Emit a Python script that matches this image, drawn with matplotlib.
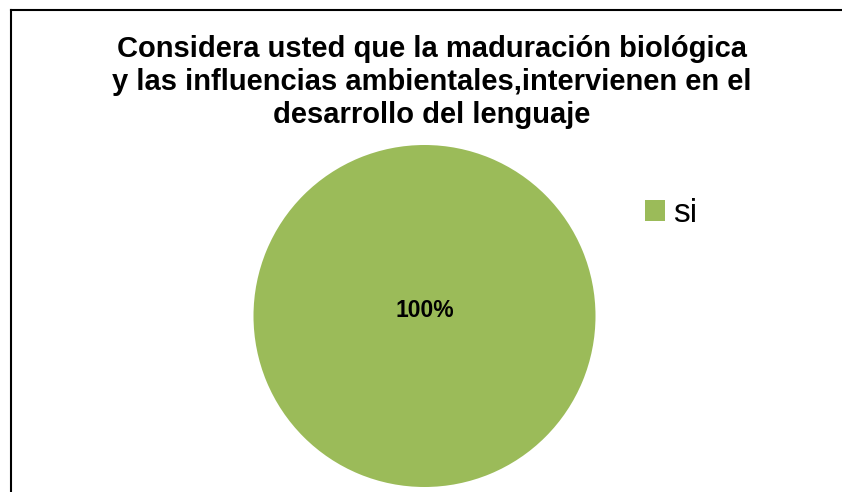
import matplotlib
matplotlib.use("Agg")
import matplotlib.pyplot as plt
from matplotlib.lines import Line2D

title_lines = [
    "Considera usted que la maduración biológica",
    "y las influencias ambientales,intervienen en el",
    "desarrollo del lenguaje",
]
categories = ["si"]
values = [100]
colors = ["#9BBB59"]

W, H = 842, 492
fig = plt.figure(figsize=(W / 100, H / 100), dpi=100)
fig.patch.set_facecolor("white")

# border (only top and left edges visible)
fig.add_artist(Line2D([11 / W, 11 / W], [1 - 10 / H, 0], transform=fig.transFigure,
                      color="black", lw=1.5, solid_capstyle="projecting"))
fig.add_artist(Line2D([11 / W, 1], [1 - 10 / H, 1 - 10 / H], transform=fig.transFigure,
                      color="black", lw=1.5, solid_capstyle="projecting"))

# title
baselines = [57, 90, 123]
for line, b in zip(title_lines, baselines):
    fig.text(432 / W, 1 - b / H, line, ha="center", va="baseline",
             fontsize=21, fontweight="bold", family=["Liberation Sans", "DejaVu Sans"])

# pie
cx, cy, r = 424.5, 316, 171
ax = fig.add_axes([(cx - r) / W, (H - cy - r) / H, 2 * r / W, 2 * r / H])
wedges, texts, autotexts = ax.pie(values, colors=colors, startangle=-90,
                                  autopct="%1.0f%%", pctdistance=0.035,
                                  wedgeprops=dict(linewidth=0),
                                  textprops=dict(fontsize=16.5, fontweight="bold",
                                                 family=["Liberation Sans Narrow", "Liberation Sans"]))
ax.set_xlim(-1, 1)
ax.set_ylim(-1, 1)
ax.set_aspect("equal")
ax.axis("off")

fig.legend(wedges, categories, loc="center left",
           bbox_to_anchor=(645 / W, 1 - 214 / H), frameon=False,
           prop=dict(size=24, family=["Liberation Sans Narrow", "Liberation Sans"]),
           handlelength=0.6, handleheight=0.6, handletextpad=0.25,
           borderpad=0, borderaxespad=0)

fig.savefig("out.png", dpi=100, facecolor="white")
